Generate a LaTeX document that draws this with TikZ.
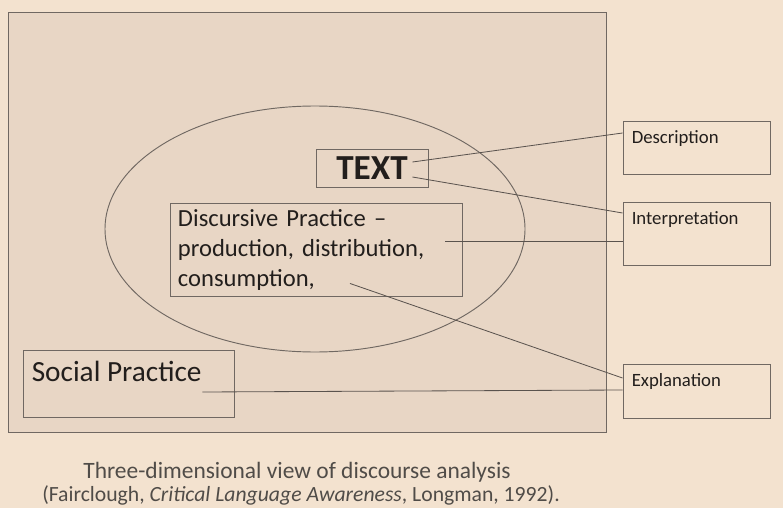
\documentclass[tikz,border=0pt]{standalone}
\usepackage{fontspec}
\setmainfont{Carlito}
\usetikzlibrary{positioning}
\definecolor{paper}{RGB}{243,226,207}
\definecolor{panel}{RGB}{232,214,197}
\definecolor{rule}{RGB}{112,104,98}
\definecolor{ink}{RGB}{34,30,28}
\definecolor{note}{RGB}{80,76,72}

\begin{document}
\begin{tikzpicture}[x=0.03cm,y=-0.03cm,
  box/.style={draw=rule,line width=0.8pt,rectangle,inner sep=0pt,text=ink},
  side/.style={box,minimum width=4.41cm},
  tag/.style={anchor=north west,inner sep=0pt,xshift=0.27cm,yshift=-0.28cm,text=ink,font=\fontsize{16}{18}\selectfont},
  link/.style={draw=rule!80!black,line width=0.7pt}]
\useasboundingbox (0,0) rectangle (783,508);
\fill[paper] (0,0) rectangle (783,508);
\filldraw[fill=panel,draw=rule,line width=0.8pt] (8,12) rectangle (606,432);
\draw[rule,line width=0.8pt] (315,229) ellipse [x radius=210,y radius=123];

\node[box,minimum width=3.36cm,minimum height=1.14cm,font=\fontsize{30}{32}\selectfont\bfseries] (txt) at (372,168) {TEXT};
\node[box,minimum width=8.76cm,minimum height=2.79cm,inner xsep=0.24cm,text width=8.28cm,align=left,
  font=\fontsize{21}{25.6}\selectfont] (disc) at (316,249.5) {Discursive Practice --\\production, distribution,\\consumption,};
\node[box,minimum width=6.33cm,minimum height=2.01cm,
  label={[tag,yshift=-0.05cm,font=\fontsize{25}{28}\selectfont]north west:Social Practice}] (soc) at (128.5,383.5) {};

\node[side,minimum height=1.59cm,label={[tag]north west:Description}] (desc) at (696.5,147.5) {};
\node[side,minimum height=1.89cm,label={[tag]north west:Interpretation}] (interp) at (696.5,233.5) {};
\node[side,minimum height=1.62cm,label={[tag]north west:Explanation}] (expl) at (696.5,391) {};

\begin{scope}[every path/.style={link}]
\draw ([shift={(-16,-6)}]txt.east) -- ([shift={(0,-14.5)}]desc.west);
\draw ([shift={(-16,9)}]txt.east) -- ([shift={(0,-20.5)}]interp.west);
\draw ([shift={(-17,-8.5)}]disc.east) -- ([shift={(0,7.5)}]interp.west);
\draw ([shift={(34,-13)}]disc.south) -- ([shift={(0,-13)}]expl.west);
\draw ([shift={(-32,8.5)}]soc.east) -- ([shift={(0,-1)}]expl.west);
\end{scope}

\node[anchor=base,text=note,font=\fontsize{20}{22}\selectfont] (cap) at (297,478) {Three-dimensional view of discourse analysis};
\node[anchor=base,text=note,font=\fontsize{18.5}{20}\selectfont] (src) at (301,501) {(Fairclough, \textit{Critical Language Awareness}, Longman, 1992).};
\end{tikzpicture}
\end{document}
